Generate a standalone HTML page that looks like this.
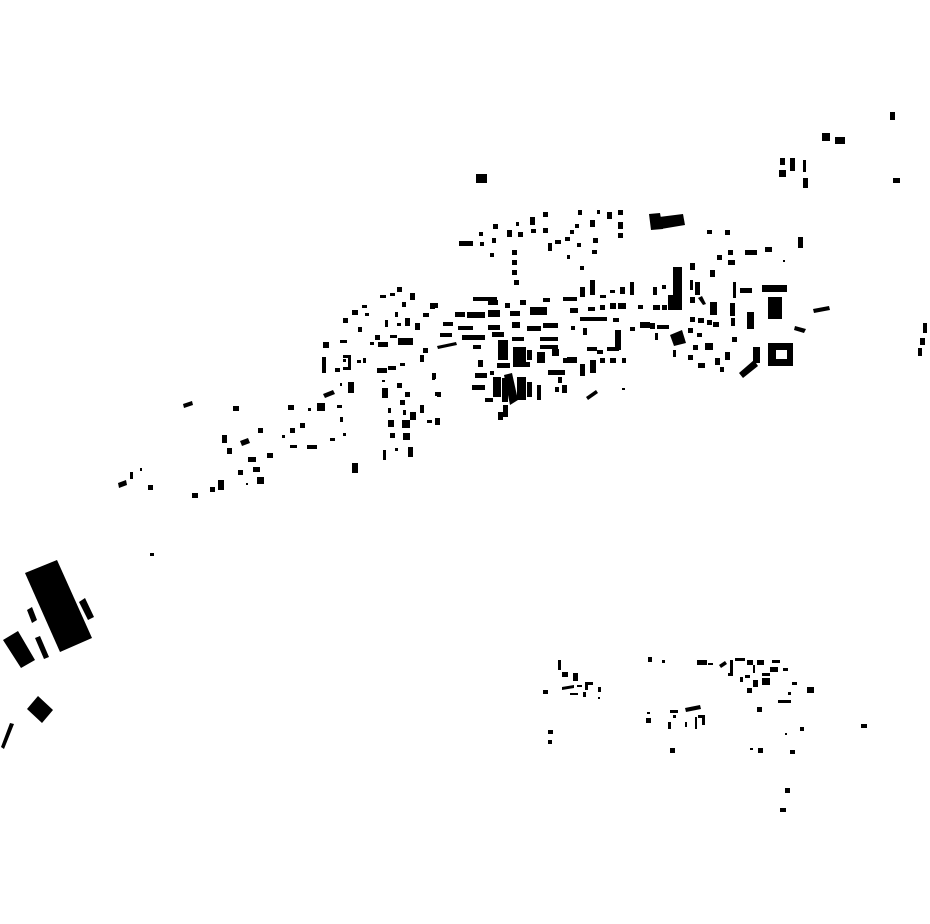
<!DOCTYPE html>
<html><head><meta charset="utf-8"><style>html,body{margin:0;padding:0;background:#fff}svg{display:block}</style></head>
<body>
<svg width="930" height="924" viewBox="0 0 930 924" xmlns="http://www.w3.org/2000/svg">
<rect width="930" height="924" fill="#fff"/>
<g fill="#000">
<!-- north central -->
<rect x="476" y="174" width="11" height="9"/>
<rect x="459" y="241" width="14" height="5"/><rect x="479" y="232" width="4" height="4"/><rect x="493" y="224" width="5" height="5"/>
<rect x="480" y="242" width="4" height="4"/><rect x="492" y="238" width="4" height="5"/><rect x="507" y="230" width="5" height="7"/>
<rect x="518" y="232" width="5" height="5"/><rect x="530" y="217" width="5" height="8"/><rect x="531" y="229" width="5" height="4"/>
<rect x="543" y="228" width="5" height="5"/><rect x="543" y="212" width="5" height="5"/><rect x="516" y="222" width="3" height="4"/>
<rect x="490" y="253" width="4" height="4"/><rect x="512" y="250" width="5" height="5"/><rect x="512" y="260" width="5" height="5"/>
<rect x="512" y="270" width="5" height="5"/><rect x="514" y="280" width="5" height="5"/>
<rect x="548" y="243" width="4" height="8"/><rect x="555" y="240" width="6" height="4"/><rect x="565" y="237" width="5" height="4"/>
<rect x="570" y="230" width="4" height="4"/><rect x="575" y="224" width="4" height="4"/><rect x="578" y="210" width="4" height="5"/>
<rect x="590" y="220" width="5" height="7"/><rect x="597" y="210" width="3" height="4"/><rect x="607" y="212" width="5" height="7"/>
<rect x="618" y="210" width="5" height="5"/><rect x="618" y="222" width="5" height="7"/><rect x="618" y="233" width="5" height="5"/>
<rect x="577" y="243" width="4" height="4"/><rect x="593" y="238" width="5" height="5"/><rect x="592" y="250" width="5" height="4"/>
<rect x="567" y="255" width="3" height="4"/><rect x="580" y="266" width="4" height="4"/>
<polygon points="649,214 660,213 663,229 651,230"/><polygon points="659,217 683,214 685,225 661,229"/>
<!-- main cluster -->
<rect x="473" y="297" width="24" height="4"/><rect x="455" y="312" width="10" height="5"/><rect x="467" y="312" width="18" height="6"/>
<rect x="488" y="310" width="12" height="7"/><rect x="510" y="311" width="10" height="5"/><rect x="530" y="307" width="17" height="8"/>
<rect x="543" y="298" width="7" height="4"/><rect x="563" y="297" width="14" height="4"/><rect x="570" y="308" width="8" height="5"/>
<rect x="580" y="287" width="5" height="10"/><rect x="590" y="280" width="5" height="15"/><rect x="600" y="295" width="6" height="3"/>
<rect x="610" y="290" width="5" height="3"/><rect x="620" y="287" width="5" height="7"/><rect x="630" y="282" width="4" height="13"/>
<rect x="488" y="300" width="10" height="5"/><rect x="520" y="300" width="6" height="5"/><rect x="505" y="303" width="5" height="5"/>
<rect x="588" y="307" width="7" height="4"/><rect x="600" y="305" width="5" height="5"/><rect x="610" y="303" width="6" height="6"/>
<rect x="618" y="303" width="8" height="6"/><rect x="638" y="305" width="5" height="4"/>
<rect x="443" y="322" width="10" height="4"/><rect x="458" y="326" width="15" height="4"/><rect x="488" y="325" width="12" height="5"/>
<rect x="512" y="322" width="8" height="6"/><rect x="527" y="326" width="14" height="5"/><rect x="543" y="323" width="15" height="5"/>
<rect x="580" y="317" width="17" height="4"/><rect x="597" y="317" width="10" height="4"/><rect x="613" y="318" width="6" height="4"/>
<rect x="630" y="327" width="5" height="4"/><rect x="640" y="322" width="10" height="6"/><rect x="657" y="325" width="12" height="4"/>
<rect x="440" y="333" width="12" height="4"/><polygon points="437,346 456,342 457,345 438,349"/><rect x="462" y="335" width="23" height="5"/>
<rect x="473" y="345" width="8" height="4"/><rect x="492" y="332" width="12" height="5"/><rect x="498" y="340" width="10" height="20"/>
<rect x="512" y="337" width="12" height="4"/><rect x="540" y="337" width="18" height="4"/><rect x="540" y="345" width="18" height="4"/>
<rect x="513" y="347" width="13" height="20"/><rect x="527" y="350" width="5" height="10"/><rect x="537" y="352" width="8" height="11"/>
<rect x="552" y="349" width="7" height="7"/><rect x="567" y="357" width="10" height="6"/><rect x="587" y="347" width="10" height="4"/>
<rect x="597" y="350" width="6" height="4"/><rect x="615" y="330" width="6" height="20"/><rect x="607" y="347" width="12" height="4"/>
<rect x="583" y="328" width="4" height="7"/><rect x="571" y="326" width="4" height="4"/>
<rect x="478" y="360" width="5" height="7"/><rect x="490" y="371" width="4" height="4"/><rect x="475" y="373" width="12" height="5"/>
<rect x="497" y="363" width="13" height="5"/><rect x="522" y="362" width="8" height="5"/><rect x="563" y="358" width="14" height="5"/>
<rect x="580" y="364" width="5" height="12"/><rect x="590" y="360" width="6" height="13"/><rect x="600" y="358" width="5" height="5"/>
<rect x="610" y="358" width="6" height="5"/><rect x="622" y="358" width="4" height="5"/>
<rect x="548" y="370" width="17" height="5"/><rect x="558" y="377" width="4" height="6"/><rect x="555" y="387" width="4" height="5"/>
<rect x="562" y="385" width="5" height="8"/><rect x="472" y="385" width="13" height="5"/><rect x="485" y="398" width="8" height="4"/>
<rect x="493" y="377" width="8" height="20"/><polygon points="504,375 512,373 518,400 510,405"/><rect x="502" y="378" width="6" height="24"/>
<rect x="517" y="377" width="9" height="23"/><rect x="527" y="382" width="5" height="15"/><rect x="537" y="385" width="4" height="15"/>
<rect x="503" y="405" width="5" height="12"/><rect x="498" y="412" width="5" height="8"/>
<polygon points="586,397 596,390 598,393 588,400"/><rect x="622" y="388" width="3" height="2"/>
<rect x="430" y="303" width="5" height="6"/><rect x="433" y="373" width="3" height="6"/><rect x="435" y="392" width="4" height="4"/>
<!-- east cluster -->
<rect x="707" y="230" width="5" height="4"/><rect x="725" y="230" width="5" height="5"/><rect x="798" y="238" width="5" height="10"/>
<rect x="717" y="255" width="5" height="5"/><rect x="728" y="250" width="5" height="5"/><rect x="728" y="260" width="7" height="5"/>
<rect x="745" y="250" width="12" height="5"/><rect x="765" y="247" width="7" height="5"/><rect x="783" y="260" width="2" height="2"/>
<rect x="690" y="263" width="5" height="7"/><rect x="710" y="270" width="5" height="7"/><rect x="653" y="287" width="4" height="8"/>
<rect x="662" y="285" width="4" height="4"/><rect x="673" y="267" width="9" height="43"/><rect x="668" y="295" width="8" height="15"/>
<rect x="653" y="305" width="7" height="5"/><rect x="662" y="305" width="5" height="5"/><rect x="690" y="280" width="3" height="10"/>
<rect x="695" y="282" width="5" height="13"/><rect x="690" y="297" width="5" height="6"/><polygon points="698,298 702,296 706,304 703,305"/>
<rect x="710" y="302" width="7" height="13"/><rect x="733" y="282" width="3" height="16"/><rect x="730" y="303" width="5" height="13"/>
<rect x="731" y="318" width="4" height="8"/><rect x="740" y="288" width="12" height="5"/><rect x="762" y="285" width="25" height="7"/>
<rect x="768" y="297" width="14" height="22"/><rect x="747" y="312" width="7" height="17"/><polygon points="813,309 829,306 830,310 814,313"/>
<polygon points="795,326 806,329 804,333 794,330"/>
<rect x="690" y="317" width="5" height="5"/><rect x="698" y="318" width="6" height="5"/><rect x="707" y="320" width="5" height="5"/>
<rect x="713" y="322" width="6" height="5"/><rect x="640" y="322" width="7" height="6"/><rect x="650" y="323" width="5" height="6"/>
<rect x="657" y="325" width="4" height="4"/><rect x="655" y="333" width="3" height="7"/>
<polygon points="670,335 682,330 686,343 674,346"/>
<rect x="688" y="328" width="5" height="5"/><rect x="697" y="333" width="5" height="4"/><rect x="673" y="350" width="3" height="7"/>
<rect x="693" y="345" width="5" height="5"/><rect x="705" y="343" width="8" height="7"/><rect x="688" y="355" width="5" height="5"/>
<rect x="715" y="358" width="5" height="7"/><rect x="725" y="352" width="5" height="8"/><rect x="698" y="363" width="7" height="5"/>
<rect x="720" y="367" width="4" height="5"/><rect x="732" y="337" width="5" height="5"/>
<rect x="753" y="347" width="7" height="16"/><polygon points="739,373 754,360 758,366 743,378"/>
<path d="M768 343 H793 V366 H768 Z M776 350 V359 H787 V350 Z" fill-rule="evenodd"/>
<!-- NE -->
<rect x="890" y="112" width="5" height="8"/><rect x="822" y="133" width="8" height="8"/><rect x="835" y="137" width="10" height="7"/>
<rect x="780" y="158" width="5" height="7"/><rect x="790" y="158" width="5" height="13"/><rect x="803" y="160" width="3" height="12"/>
<rect x="779" y="170" width="7" height="7"/><rect x="803" y="178" width="5" height="10"/><rect x="893" y="178" width="7" height="5"/>
<rect x="798" y="237" width="5" height="11"/>
<rect x="923" y="323" width="4" height="10"/><rect x="920" y="338" width="5" height="7"/><rect x="918" y="348" width="4" height="8"/>
<!-- west-central -->
<rect x="380" y="295" width="6" height="3"/><rect x="390" y="293" width="5" height="3"/><rect x="397" y="287" width="5" height="5"/>
<rect x="410" y="293" width="5" height="7"/><rect x="402" y="302" width="4" height="5"/><rect x="435" y="303" width="3" height="5"/>
<rect x="423" y="313" width="6" height="4"/><rect x="443" y="322" width="10" height="4"/>
<rect x="343" y="318" width="5" height="5"/><rect x="352" y="310" width="6" height="5"/><rect x="362" y="305" width="5" height="3"/>
<rect x="365" y="313" width="4" height="3"/><rect x="358" y="327" width="4" height="5"/><rect x="395" y="312" width="3" height="5"/>
<rect x="385" y="320" width="3" height="7"/><rect x="397" y="323" width="4" height="3"/><rect x="405" y="318" width="5" height="8"/>
<rect x="415" y="323" width="5" height="7"/>
<rect x="323" y="342" width="6" height="6"/><rect x="340" y="340" width="7" height="3"/><rect x="370" y="342" width="4" height="3"/>
<rect x="375" y="335" width="5" height="5"/><rect x="378" y="342" width="10" height="5"/><rect x="390" y="335" width="7" height="3"/>
<rect x="398" y="338" width="15" height="7"/>
<rect x="322" y="357" width="4" height="16"/><rect x="335" y="368" width="5" height="4"/>
<path d="M343 355 H351 V370 H343 V367 H348 V358 H343 Z"/><rect x="343" y="359" width="3" height="3"/>
<rect x="357" y="360" width="4" height="3"/><rect x="363" y="358" width="3" height="5"/><rect x="377" y="368" width="10" height="5"/>
<rect x="388" y="366" width="8" height="4"/><rect x="400" y="363" width="5" height="3"/><rect x="420" y="355" width="4" height="7"/>
<rect x="423" y="348" width="5" height="5"/>
<polygon points="323,394 333,390 335,394 325,398"/><rect x="340" y="383" width="2" height="3"/><rect x="348" y="382" width="6" height="11"/>
<rect x="382" y="380" width="3" height="2"/><rect x="382" y="388" width="6" height="10"/><rect x="397" y="383" width="5" height="5"/>
<rect x="405" y="392" width="5" height="5"/><rect x="432" y="373" width="3" height="7"/><rect x="437" y="392" width="4" height="5"/>
<rect x="288" y="405" width="6" height="5"/><rect x="308" y="408" width="3" height="3"/><rect x="317" y="403" width="8" height="8"/>
<rect x="337" y="405" width="5" height="3"/><rect x="388" y="408" width="3" height="5"/><rect x="400" y="400" width="5" height="5"/>
<rect x="403" y="410" width="3" height="5"/><rect x="410" y="412" width="6" height="8"/><rect x="420" y="405" width="4" height="8"/>
<rect x="340" y="417" width="3" height="5"/><rect x="388" y="420" width="6" height="7"/><rect x="402" y="420" width="8" height="8"/>
<rect x="427" y="420" width="5" height="3"/><rect x="435" y="418" width="5" height="7"/>
<rect x="282" y="435" width="3" height="3"/><rect x="290" y="428" width="5" height="5"/><rect x="300" y="423" width="5" height="5"/>
<rect x="330" y="438" width="5" height="3"/><rect x="343" y="433" width="3" height="3"/><rect x="390" y="433" width="5" height="5"/>
<rect x="403" y="433" width="7" height="7"/><rect x="290" y="445" width="7" height="3"/><rect x="307" y="445" width="10" height="4"/>
<rect x="383" y="450" width="3" height="10"/><rect x="395" y="448" width="3" height="3"/><rect x="408" y="447" width="5" height="10"/>
<rect x="352" y="463" width="6" height="10"/>
<!-- west sparse -->
<polygon points="183,404 192,401 193,405 184,408"/><rect x="233" y="406" width="6" height="5"/><rect x="222" y="435" width="5" height="8"/>
<polygon points="240,441 248,438 250,443 242,446"/><rect x="227" y="448" width="5" height="6"/><rect x="248" y="457" width="8" height="5"/>
<rect x="258" y="428" width="5" height="5"/><rect x="282" y="435" width="3" height="3"/><rect x="267" y="453" width="6" height="5"/>
<rect x="238" y="470" width="5" height="5"/><rect x="253" y="467" width="7" height="5"/><rect x="257" y="477" width="7" height="7"/>
<rect x="246" y="483" width="2" height="2"/><rect x="218" y="480" width="6" height="10"/><rect x="210" y="487" width="5" height="5"/>
<rect x="192" y="493" width="6" height="5"/><rect x="148" y="485" width="5" height="5"/><polygon points="118,483 126,480 127,485 119,488"/>
<rect x="130" y="472" width="3" height="7"/><rect x="140" y="468" width="2" height="3"/>
<!-- far west -->
<polygon points="25,573 57,560 92,638 60,652"/>
<polygon points="27,610 32,607 37,620 32,623"/>
<polygon points="79,602 85,598 94,617 88,620"/>
<polygon points="3,640 18,631 35,660 21,668"/>
<polygon points="35,638 40,636 49,657 44,659"/>
<polygon points="38,696 53,710 42,723 27,709"/>
<polygon points="10,723 14,724 4,749 1,747"/>
<rect x="150" y="553" width="4" height="3"/>
<!-- south -->
<rect x="558" y="660" width="3" height="10"/><rect x="562" y="672" width="6" height="5"/><rect x="573" y="673" width="5" height="8"/>
<polygon points="562,687 574,685 574,688 562,690"/><rect x="577" y="685" width="5" height="2"/><rect x="585" y="682" width="8" height="3"/>
<rect x="585" y="685" width="3" height="5"/><rect x="570" y="693" width="8" height="2"/><rect x="583" y="692" width="3" height="5"/>
<rect x="598" y="687" width="3" height="5"/><rect x="598" y="697" width="2" height="2"/><rect x="543" y="690" width="5" height="4"/>
<rect x="648" y="657" width="4" height="5"/><rect x="662" y="660" width="3" height="3"/><rect x="697" y="660" width="10" height="5"/>
<rect x="708" y="663" width="5" height="2"/><polygon points="719,665 725,661 727,664 721,668"/><rect x="730" y="660" width="3" height="15"/>
<rect x="735" y="658" width="10" height="3"/><rect x="747" y="660" width="6" height="5"/><rect x="757" y="660" width="7" height="5"/>
<rect x="753" y="665" width="2" height="8"/><rect x="772" y="660" width="8" height="3"/><rect x="770" y="667" width="8" height="5"/>
<rect x="783" y="668" width="5" height="3"/><rect x="728" y="673" width="5" height="3"/><rect x="740" y="677" width="3" height="5"/>
<rect x="745" y="675" width="5" height="3"/><rect x="753" y="680" width="5" height="7"/><rect x="762" y="673" width="8" height="3"/>
<rect x="762" y="678" width="8" height="7"/><rect x="747" y="688" width="5" height="5"/><rect x="792" y="682" width="5" height="3"/>
<rect x="807" y="687" width="7" height="6"/><rect x="788" y="692" width="3" height="3"/><rect x="778" y="700" width="13" height="3"/>
<rect x="757" y="707" width="5" height="5"/>
<rect x="647" y="712" width="3" height="2"/><rect x="646" y="718" width="5" height="5"/><rect x="670" y="710" width="8" height="3"/>
<rect x="673" y="715" width="3" height="3"/><polygon points="685,708 700,705 701,709 686,712"/><rect x="668" y="722" width="3" height="7"/>
<rect x="685" y="722" width="2" height="5"/><rect x="695" y="717" width="2" height="12"/><rect x="698" y="715" width="6" height="3"/>
<rect x="702" y="715" width="3" height="10"/>
<rect x="548" y="730" width="5" height="4"/><rect x="548" y="740" width="4" height="4"/><rect x="670" y="748" width="5" height="5"/>
<rect x="750" y="748" width="3" height="2"/><rect x="758" y="748" width="5" height="5"/><rect x="790" y="750" width="5" height="4"/>
<rect x="785" y="733" width="2" height="2"/><rect x="800" y="727" width="4" height="4"/><rect x="785" y="788" width="5" height="5"/>
<rect x="780" y="808" width="6" height="4"/><rect x="861" y="724" width="6" height="4"/>
</g>
</svg>
</body></html>
